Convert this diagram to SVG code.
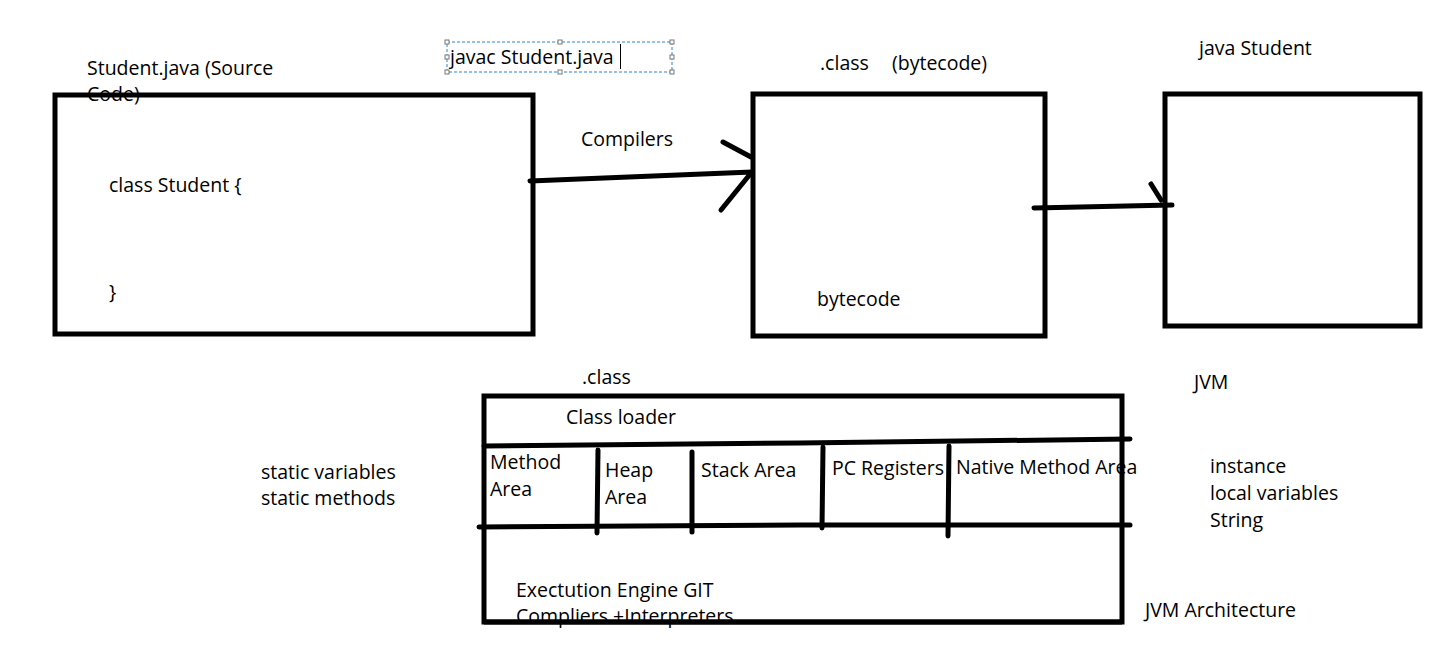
<svg xmlns="http://www.w3.org/2000/svg" width="1445" height="655" viewBox="0 0 1445 655">
<style>
text{font-family:"Open Sans","Liberation Sans",sans-serif;font-size:19.5px;fill:#000}
.b{fill:none;stroke:#000;stroke-width:5}
.l{stroke:#000;stroke-width:5;stroke-linecap:round;fill:none}
.h{fill:#fff;stroke:#777;stroke-width:1}
</style>
<rect width="1445" height="655" fill="#fff"/>
<g id="source">
<text x="87" y="75">Student.java (Source</text>
<text x="87" y="101">Code)</text>
<rect class="b" x="55" y="95" width="478" height="239"/>
<text x="109" y="192">class Student {</text>
<text x="109" y="299">}</text>
</g>
<g id="javac">
<rect x="447" y="42" width="225" height="30" fill="none" stroke="#2b83d9" stroke-width="1" stroke-dasharray="3,2"/>
<rect class="h" x="445" y="40" width="4" height="4"/><rect class="h" x="558" y="40" width="4" height="4"/><rect class="h" x="670" y="40" width="4" height="4"/>
<rect class="h" x="445" y="55" width="4" height="4"/><rect class="h" x="670" y="55" width="4" height="4"/>
<rect class="h" x="445" y="70" width="4" height="4"/><rect class="h" x="558" y="70" width="4" height="4"/><rect class="h" x="670" y="70" width="4" height="4"/>
<text x="450" y="64">javac Student.java</text>
<line x1="620.5" y1="44" x2="620.5" y2="69" stroke="#000" stroke-width="1"/>
</g>
<g id="bytecode">
<text x="820" y="70">.class</text>
<text x="892" y="70">(bytecode)</text>
<rect class="b" x="753" y="94" width="292" height="242"/>
<text x="817" y="306">bytecode</text>
</g>
<g id="jvm">
<text x="1199" y="55">java Student</text>
<rect class="b" x="1165" y="94" width="255" height="232"/>
<text x="1194" y="389">JVM</text>
</g>
<g id="connectors">
<text x="581" y="146">Compilers</text>
<path class="l" d="M530 181 L752 172 M723 142 L751 157 M721 210 L751 173"/>
<path class="l" d="M1034 208 L1172 205 M1151 184 L1161 200"/>
</g>
<g id="architecture">
<text x="582" y="384">.class</text>
<rect class="b" x="484" y="396" width="638" height="226"/>
<text x="566" y="424">Class loader</text>
<path class="l" d="M484 446 L800 443 L1130 439"/>
<path class="l" d="M479 527 L800 525 L1130 525"/>
<path class="l" d="M598 450 L597 533 M692 452 L692 532 M823 447 L822 528 M949 446 L948 536"/>
<text x="490" y="469">Method</text>
<text x="490" y="496">Area</text>
<text x="605" y="477">Heap</text>
<text x="605" y="504">Area</text>
<text x="701" y="477">Stack Area</text>
<text x="832" y="475">PC Registers</text>
<text x="956" y="474">Native Method Area</text>
<text x="516" y="597">Exectution Engine GIT</text>
<text x="516" y="623">Compliers +Interpreters</text>
<line x1="484" y1="622" x2="1122" y2="622" stroke="#000" stroke-width="5"/>
</g>
<g id="notes">
<text x="261" y="479">static variables</text>
<text x="261" y="505">static methods</text>
<text x="1210" y="473">instance</text>
<text x="1210" y="500">local variables</text>
<text x="1210" y="527">String</text>
<text x="1145" y="617">JVM Architecture</text>
</g>
</svg>
